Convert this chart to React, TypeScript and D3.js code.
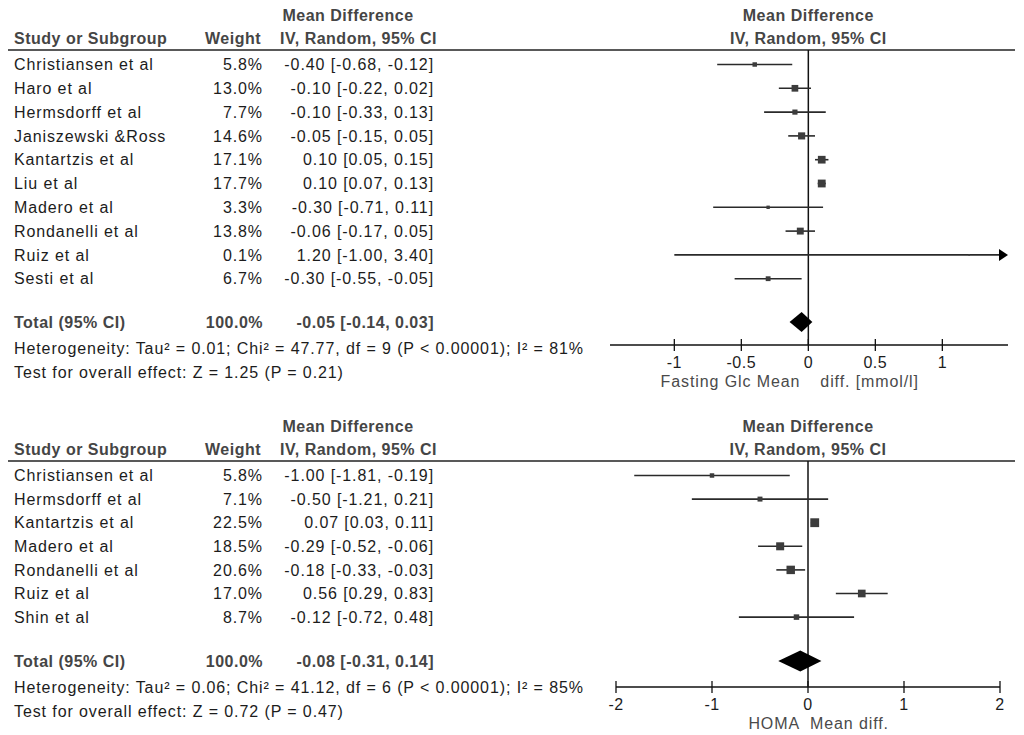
import React from "react";
import * as d3 from "d3";

// ---------- Data: Fasting glucose ----------
const glcStudies = ["Christiansen et al", "Haro et al", "Hermsdorff et al", "Janiszewski &Ross", "Kantartzis et al", "Liu et al", "Madero et al", "Rondanelli et al", "Ruiz et al", "Sesti et al"];
const glcWeights = [5.8, 13.0, 7.7, 14.6, 17.1, 17.7, 3.3, 13.8, 0.1, 6.7];
const glcMeans = [-0.40, -0.10, -0.10, -0.05, 0.10, 0.10, -0.30, -0.06, 1.20, -0.30];
const glcLower = [-0.68, -0.22, -0.33, -0.15, 0.05, 0.07, -0.71, -0.17, -1.00, -0.55];
const glcUpper = [-0.12, 0.02, 0.13, 0.05, 0.15, 0.13, 0.11, 0.05, 3.40, -0.05];
const glcTotal = [-0.05, -0.14, 0.03];
const glcTicks = [-1, -0.5, 0, 0.5, 1];
const glcDomain = [-1.48, 1.49];
const glcHet = "Heterogeneity: Tau² = 0.01; Chi² = 47.77, df = 9 (P < 0.00001); I² = 81%";
const glcTest = "Test for overall effect: Z = 1.25 (P = 0.21)";
const glcAxisLeft = "Fasting Glc Mean";
const glcAxisRight = "diff. [mmol/l]";

// ---------- Data: HOMA ----------
const homaStudies = ["Christiansen et al", "Hermsdorff et al", "Kantartzis et al", "Madero et al", "Rondanelli et al", "Ruiz et al", "Shin et al"];
const homaWeights = [5.8, 7.1, 22.5, 18.5, 20.6, 17.0, 8.7];
const homaMeans = [-1.00, -0.50, 0.07, -0.29, -0.18, 0.56, -0.12];
const homaLower = [-1.81, -1.21, 0.03, -0.52, -0.33, 0.29, -0.72];
const homaUpper = [-0.19, 0.21, 0.11, -0.06, -0.03, 0.83, 0.48];
const homaTotal = [-0.08, -0.31, 0.14];
const homaTicks = [-2, -1, 0, 1, 2];
const homaDomain = [-2, 2];
const homaHet = "Heterogeneity: Tau² = 0.06; Chi² = 41.12, df = 6 (P < 0.00001); I² = 85%";
const homaTest = "Test for overall effect: Z = 0.72 (P = 0.47)";
const homaAxisLeft = "HOMA";
const homaAxisRight = "Mean diff.";

const FONT = "'Liberation Sans', Arial, sans-serif";
const f2 = (v: number) => v.toFixed(2);
const ciText = (m: number, l: number, u: number) => `${f2(m)} [${f2(l)}, ${f2(u)}]`;
const tickFmt = (v: number) => String(v);

interface PanelProps {
  studies: string[];
  weights: number[];
  means: number[];
  lower: number[];
  upper: number[];
  total: number[];
  ticks: number[];
  domain: number[];
  range: number[];
  het: string;
  test: string;
  axisLeft: string;
  axisRight: string;
  axisRightGap: number;
  top: number;
  rowStart: number;
  rowPitch: number;
  totalY: number;
  hetY: number;
  testY: number;
  axisY: number;
  diamondH: number;
}

function Panel(p: PanelProps) {
  const x = d3.scaleLinear().domain(p.domain).range(p.range);
  const y = (i: number) => p.rowStart + i * p.rowPitch;
  const size = d3.scaleSqrt().domain([0, 100]).range([0, 18.6]);
  const x0 = x(0);
  const [xmin, xmax] = p.range;
  const regular = { fontFamily: FONT, fontSize: 16, letterSpacing: 0.9, fill: "#1c1c1c" } as const;
  const bold = { fontFamily: FONT, fontSize: 16, fontWeight: 700, letterSpacing: 0.5, fill: "#454545" } as const;
  const diamond = d3.line()([
    [x(p.total[1]), p.totalY],
    [x(p.total[0]), p.totalY - p.diamondH / 2],
    [x(p.total[2]), p.totalY],
    [x(p.total[0]), p.totalY + p.diamondH / 2],
  ]) + "Z";
  return (
    <g>
      {/* headers */}
      <text x={348} y={p.top + 15} dy="0.35em" textAnchor="middle" style={bold}>Mean Difference</text>
      <text x={14} y={p.top + 38} dy="0.35em" style={bold}>Study or Subgroup</text>
      <text x={261} y={p.top + 38} dy="0.35em" textAnchor="end" style={bold}>Weight</text>
      <text x={437} y={p.top + 38} dy="0.35em" textAnchor="end" style={bold}>IV, Random, 95% CI</text>
      <text x={x0} y={p.top + 15} dy="0.35em" textAnchor="middle" style={bold}>Mean Difference</text>
      <text x={x0} y={p.top + 38} dy="0.35em" textAnchor="middle" style={bold}>IV, Random, 95% CI</text>
      <line x1={8} x2={1015} y1={p.top + 50} y2={p.top + 50} stroke="#222" strokeWidth={1.6} />

      {/* rows */}
      {p.studies.map((s, i) => (
        <g key={s + i}>
          <text x={14} y={y(i)} dy="0.35em" style={regular}>{s}</text>
          <text x={263} y={y(i)} dy="0.35em" textAnchor="end" style={regular}>{p.weights[i].toFixed(1)}%</text>
          <text x={434} y={y(i)} dy="0.35em" textAnchor="end" style={regular}>{ciText(p.means[i], p.lower[i], p.upper[i])}</text>
        </g>
      ))}

      {/* zero line */}
      <line x1={x0} x2={x0} y1={p.top + 50} y2={p.axisY} stroke="#111" strokeWidth={1.5} />

      {/* CI lines and squares */}
      {p.studies.map((s, i) => {
        const lo = Math.max(x(p.lower[i]), xmin);
        const hiRaw = x(p.upper[i]);
        const clipped = hiRaw > xmax;
        const hi = clipped ? xmax - 8 : hiRaw;
        const sz = Math.max(size(p.weights[i]), 1.6);
        return (
          <g key={"m" + i}>
            <line x1={lo} x2={hi} y1={y(i)} y2={y(i)} stroke="#2a2a2a" strokeWidth={1.6} />
            {clipped && (
              <path d={`M${xmax - 9},${y(i) - 6}L${xmax},${y(i)}L${xmax - 9},${y(i) + 6}Z`} fill="#000" />
            )}
            <rect x={x(p.means[i]) - sz / 2} y={y(i) - sz / 2} width={sz} height={sz} fill="#3c3c3c" />
          </g>
        );
      })}

      {/* total */}
      <text x={14} y={p.totalY} dy="0.35em" style={bold}>Total (95% CI)</text>
      <text x={263} y={p.totalY} dy="0.35em" textAnchor="end" style={bold}>100.0%</text>
      <text x={434} y={p.totalY} dy="0.35em" textAnchor="end" style={bold}>{ciText(p.total[0], p.total[1], p.total[2])}</text>
      <path d={diamond} fill="#000" />

      <text x={14} y={p.hetY} dy="0.35em" style={regular}>{p.het}</text>
      <text x={14} y={p.testY} dy="0.35em" style={regular}>{p.test}</text>

      {/* axis */}
      <line x1={xmin} x2={xmax} y1={p.axisY} y2={p.axisY} stroke="#111" strokeWidth={1.5} />
      {p.ticks.map((t) => (
        <g key={"t" + t}>
          <line x1={x(t)} x2={x(t)} y1={p.axisY - 6} y2={p.axisY + 6} stroke="#111" strokeWidth={1.3} />
          <text x={x(t)} y={p.axisY + 17} dy="0.35em" textAnchor="middle" style={{ ...regular, letterSpacing: 0.5 }}>{tickFmt(t)}</text>
        </g>
      ))}
      <text x={x0 - 8} y={p.axisY + 36} dy="0.35em" textAnchor="end" style={{ ...regular, fill: "#4a4a4a" }}>{p.axisLeft}</text>
      <text x={x0 + p.axisRightGap} y={p.axisY + 36} dy="0.35em" style={{ ...regular, fill: "#4a4a4a" }}>{p.axisRight}</text>
    </g>
  );
}

export default function App() {
  return (
    <svg width={1024} height={735} style={{ position: "absolute", left: 0, top: 0, background: "#fff" }}>
      <rect width={1024} height={735} fill="#fff" />
      <Panel
        studies={glcStudies} weights={glcWeights} means={glcMeans} lower={glcLower} upper={glcUpper}
        total={glcTotal} ticks={glcTicks} domain={glcDomain} range={[610, 1008]}
        het={glcHet} test={glcTest} axisLeft={glcAxisLeft} axisRight={glcAxisRight} axisRightGap={12}
        top={0} rowStart={64.5} rowPitch={23.8} totalY={322} hetY={348} testY={372} axisY={345} diamondH={20}
      />
      <Panel
        studies={homaStudies} weights={homaWeights} means={homaMeans} lower={homaLower} upper={homaUpper}
        total={homaTotal} ticks={homaTicks} domain={homaDomain} range={[616, 1000]}
        het={homaHet} test={homaTest} axisLeft={homaAxisLeft} axisRight={homaAxisRight} axisRightGap={2}
        top={411} rowStart={475.5} rowPitch={23.6} totalY={661} hetY={687} testY={711} axisY={687} diamondH={21}
      />
    </svg>
  );
}
